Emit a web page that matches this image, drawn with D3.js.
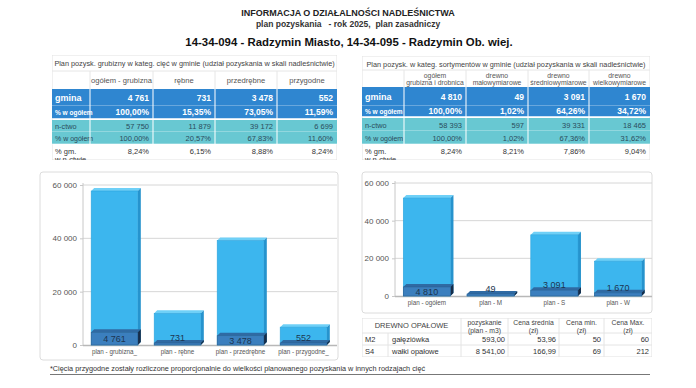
<!DOCTYPE html>
<html lang="pl">
<head>
<meta charset="UTF-8">
<title>Informacja o działalności nadleśnictwa</title>
<script src="https://d3js.org/d3.v7.min.js"></script>
<style>
  body { margin: 0; background: #fff; }
  svg { font-family: "Liberation Sans", Arial, sans-serif; }
</style>
</head>
<body>
<svg width="696" height="388"></svg>
<script>
const leftHeaders = [["ogółem - grubizna"], ["rębne"], ["przedrębne"], ["przygodne"]];
const leftGmina = [4761, 731, 3478, 552];
const leftGminaPct = ["100,00%", "15,35%", "73,05%", "11,59%"];
const leftNctwo = [57750, 11879, 39172, 6699];
const leftNctwoPct = ["100,00%", "20,57%", "67,83%", "11,60%"];
const leftShare = ["8,24%", "6,15%", "8,88%", "8,24%"];
const leftBarCats = ["plan - grubizna_", "plan - rębne", "plan - przedrębne", "plan - przygodne_"];
const leftBarPlan = [57750, 11879, 39172, 6699];

const rightHeaders = [["ogółem", "grubizna i drobnica"], ["drewno", "małowymiarowe"], ["drewno", "średniowymiarowe"], ["drewno", "wielkowymiarowe"]];
const rightGmina = [4810, 49, 3091, 1670];
const rightGminaPct = ["100,00%", "1,02%", "64,26%", "34,72%"];
const rightNctwo = [58393, 597, 39331, 18465];
const rightNctwoPct = ["100,00%", "1,02%", "67,36%", "31,62%"];
const rightShare = ["8,24%", "8,21%", "7,86%", "9,04%"];
const rightBarCats = ["plan - ogółem", "plan - M", "plan - S", "plan - W"];
const rightBarPlan = [52000, 600, 32500, 18500];

const yTicks = [0, 20000, 40000, 60000];

const fuelHeaders = [["DREWNO OPAŁOWE"], ["pozyskanie", "(plan - m3)"], ["Cena średnia", "(zł)"], ["Cena min.", "(zł)"], ["Cena Max.", "(zł)"]];
const fuelCodes = ["M2", "S4"];
const fuelNames = ["gałęziówka", "wałki opałowe"];
const fuelPlan = [593.00, 8541.00];
const fuelAvg = [53.96, 166.99];
const fuelMin = [50, 69];
const fuelMax = [60, 212];

const pl = d3.formatLocale({ decimal: ",", thousands: " ", grouping: [3], currency: ["", " zł"] });
const fmtInt = pl.format(",d");
const fmt2 = pl.format(",.2f");

const svg = d3.select("svg");
const defs = svg.append("defs");

// ---- titles ----
svg.append("text").attr("x", 348).attr("y", 16).attr("text-anchor", "middle")
  .attr("font-size", 9).attr("font-weight", "bold").attr("fill", "#222")
  .text("INFORMACJA O DZIAŁALNOŚCI NADLEŚNICTWA");
svg.append("text").attr("x", 348).attr("y", 27).attr("text-anchor", "middle")
  .attr("font-size", 8.5).attr("font-weight", "bold").attr("fill", "#333")
  .attr("xml:space", "preserve")
  .text("plan pozyskania   - rok 2025,  plan zasadniczy");
svg.append("text").attr("x", 349).attr("y", 46).attr("text-anchor", "middle")
  .attr("font-size", 11.4).attr("font-weight", "bold").attr("fill", "#111")
  .text("14-34-094 - Radzymin Miasto, 14-34-095 - Radzymin Ob. wiej.");

// ---- summary tables ----
function drawTable(o) {
  const g = svg.append("g");
  const e = o.cols, x0 = e[0], x1 = e[e.length - 1], r = o.rows;
  const clipId = "clip" + x0;
  defs.append("clipPath").attr("id", clipId).append("rect")
    .attr("x", x0).attr("y", r.title).attr("width", x1 - x0).attr("height", r.end - r.title);
  g.attr("clip-path", `url(#${clipId})`);

  g.append("rect").attr("x", x0).attr("y", r.title).attr("width", x1 - x0).attr("height", r.end - r.title)
    .attr("fill", "#fff").attr("stroke", "#e2e2e2");
  g.append("text").attr("x", (x0 + x1) / 2).attr("y", r.title + 10.5).attr("text-anchor", "middle")
    .attr("font-size", 7.3).attr("fill", "#444").text(o.title);

  // header
  e.slice(1, -1).forEach(x => g.append("line").attr("x1", x).attr("x2", x)
    .attr("y1", r.head).attr("y2", r.gmina).attr("stroke", "#e6e6e6"));
  g.append("line").attr("x1", x0).attr("x2", x1).attr("y1", r.head).attr("y2", r.head).attr("stroke", "#e6e6e6");
  o.headers.forEach((h, i) => {
    const cx = (e[i + 1] + e[i + 2]) / 2;
    const mid = (r.head + r.gmina) / 2;
    h.forEach((line, k) => g.append("text").attr("x", cx)
      .attr("y", mid + 3 + (k - (h.length - 1) / 2) * 7.5)
      .attr("text-anchor", "middle").attr("font-size", h.length > 1 ? 6.8 : 7.6).attr("fill", "#555").text(line));
  });

  const bands = [
    { y0: r.gmina, y1: r.pct, fill: "#2f86d0", label: "gmina", vals: o.gmina.map(fmtInt), color: "#fff", bold: true, lsize: 9, vsize: 8.5 },
    { y0: r.pct, y1: r.nct - 1.5, fill: "#2f86d0", label: "% w ogółem", vals: o.gminaPct, color: "#fff", bold: true, lsize: 6.5, vsize: 8.5 },
    { y0: r.nct, y1: r.pct2, fill: "#68c8d2", label: "n-ctwo", vals: o.nctwo.map(fmtInt), color: "#2b4c5c", bold: false, lsize: 7.3, vsize: 7.5 },
    { y0: r.pct2, y1: r.share, fill: "#68c8d2", label: "% w ogółem", vals: o.nctwoPct, color: "#2b4c5c", bold: false, lsize: 7, vsize: 7.5 }
  ];
  bands.forEach(b => {
    g.append("rect").attr("x", x0).attr("y", b.y0).attr("width", x1 - x0).attr("height", b.y1 - b.y0).attr("fill", b.fill);
    g.append("line").attr("x1", x0).attr("x2", x1).attr("y1", b.y1).attr("y2", b.y1).attr("stroke", "rgba(255,255,255,0.55)");
    const ty = (b.y0 + b.y1) / 2 + 3;
    g.append("text").attr("x", x0 + 3).attr("y", ty).attr("font-size", b.lsize)
      .attr("font-weight", b.bold ? "bold" : "normal").attr("fill", b.color).text(b.label);
    b.vals.forEach((v, i) => g.append("text").attr("x", e[i + 2] - 4).attr("y", ty).attr("text-anchor", "end")
      .attr("font-size", b.vsize).attr("font-weight", b.bold ? "bold" : "normal").attr("fill", b.color).text(v));
  });
  e.slice(1, -1).forEach(x => g.append("line").attr("x1", x).attr("x2", x)
    .attr("y1", r.gmina).attr("y2", r.share).attr("stroke", "rgba(255,255,255,0.85)").attr("stroke-width", 1.2));

  g.append("text").attr("x", x0 + 3).attr("y", r.share + 10).attr("font-size", 7.5).attr("fill", "#333").text("% gm.");
  g.append("text").attr("x", x0 + 3).attr("y", r.share + 18).attr("font-size", 7.5).attr("fill", "#333").text("w n-ctwie");
  o.share.forEach((v, i) => g.append("text").attr("x", e[i + 2] - 4).attr("y", r.share + 10)
    .attr("text-anchor", "end").attr("font-size", 7.5).attr("fill", "#333").text(v));
}

drawTable({
  cols: [52, 90, 153, 215, 277, 337],
  rows: { title: 55, head: 71, gmina: 89, pct: 106, nct: 120, pct2: 132, share: 144, end: 160 },
  title: "Plan pozysk. grubizny w kateg. cięć w gminie (udział pozyskania w skali nadleśnictwie)",
  headers: leftHeaders, gmina: leftGmina, gminaPct: leftGminaPct, nctwo: leftNctwo, nctwoPct: leftNctwoPct, share: leftShare
});
drawTable({
  cols: [362, 404, 466, 528, 589, 650],
  rows: { title: 56, head: 70, gmina: 87, pct: 106, nct: 118, pct2: 131, share: 144, end: 160 },
  title: "Plan pozysk. w kateg. sortymentów w gminie (udział pozyskania w skali nadleśnictwie)",
  headers: rightHeaders, gmina: rightGmina, gminaPct: rightGminaPct, nctwo: rightNctwo, nctwoPct: rightNctwoPct, share: rightShare
});

// ---- 3D bar charts ----
function drawChart(o) {
  const g = svg.append("g");
  g.append("rect").attr("x", o.box[0]).attr("y", o.box[1]).attr("width", o.box[2]).attr("height", o.box[3])
    .attr("rx", 3).attr("fill", "#fff").attr("stroke", "#dcdcdc");

  const x = d3.scaleBand().domain(o.cats).range([o.x0, o.x1]).paddingInner(0.26).paddingOuter(0.13);
  const y = d3.scaleLinear().domain([0, 60000]).range([o.y0, o.y1]);
  const dx = 3, dy = 3;

  g.append("g").selectAll("line").data(yTicks.slice(1)).join("line")
    .attr("x1", o.x0).attr("x2", o.x1 + 2).attr("y1", d => y(d)).attr("y2", d => y(d)).attr("stroke", "#d6d6d6");
  const yAxis = g.append("g").attr("transform", `translate(${o.x0},0)`)
    .call(d3.axisLeft(y).tickValues(yTicks).tickFormat(fmtInt).tickSize(3));
  yAxis.select(".domain").attr("stroke", "#c8c8c8");
  yAxis.selectAll(".tick line").attr("stroke", "#c8c8c8");
  yAxis.selectAll(".tick text").attr("font-size", 8).attr("fill", "#555").attr("font-family", "Liberation Sans, Arial, sans-serif");
  yAxis.select(".domain").attr("d", `M0,${o.y1 - 2}V${o.y0}`);

  g.append("line").attr("x1", o.x0).attr("x2", o.x1 + 2).attr("y1", o.y0 + 0.5).attr("y2", o.y0 + 0.5)
    .attr("stroke", "#b8b8b8").attr("stroke-width", 1.5);

  function bar3d(xl, w, yt, yb, c) {
    g.append("path").attr("d", `M${xl},${yt}L${xl + dx},${yt - dy}L${xl + w + dx},${yt - dy}L${xl + w},${yt}Z`).attr("fill", c.top);
    g.append("path").attr("d", `M${xl + w},${yt}L${xl + w + dx},${yt - dy}L${xl + w + dx},${yb - dy}L${xl + w},${yb}Z`).attr("fill", c.side);
    g.append("rect").attr("x", xl).attr("y", yt).attr("width", w).attr("height", Math.max(0, yb - yt))
      .attr("fill", c.front).attr("stroke", c.edge).attr("stroke-width", 0.6);
  }
  const light = { front: "#3cb6ee", top: "#6fd0f7", side: "#2693cd", edge: "#2ba3dd" };
  const dark = { front: "#3b7fbe", top: "#2f6aa3", side: "#162c48", edge: "#2c5f92" };

  o.cats.forEach((c, i) => {
    const xl = x(c), w = x.bandwidth();
    bar3d(xl, w, y(o.plan[i]), y(0), light);
    const it = Math.min(y(o.gmina[i]), y(0) - 2);
    bar3d(xl, w, it, y(0), dark);
    const h = y(0) - it;
    const ly = h > 9 ? (it + y(0)) / 2 + 3.5 : it - 2;
    g.append("text").attr("x", xl + w / 2).attr("y", ly).attr("text-anchor", "middle")
      .attr("font-size", 9).attr("fill", "#1d3550").text(fmtInt(o.gmina[i]));
    g.append("text").attr("x", xl + w / 2).attr("y", o.y0 + 9).attr("text-anchor", "middle")
      .attr("font-size", 6.3).attr("fill", "#555").text(c);
  });
}

drawChart({ box: [40, 172, 298, 188], cats: leftBarCats, plan: leftBarPlan, gmina: leftGmina,
  x0: 83, x1: 335, y0: 345, y1: 185 });
drawChart({ box: [362, 172, 290, 141], cats: rightBarCats, plan: rightBarPlan, gmina: rightGmina,
  x0: 395, x1: 650, y0: 296, y1: 183 });

// ---- fuel wood table ----
(function () {
  const e = [362, 388, 461, 508, 559, 604, 652];
  const rows = [318, 333, 345, 357];
  const g = svg.append("g");
  defs.append("clipPath").attr("id", "clipFuel").append("rect")
    .attr("x", e[0]).attr("y", rows[0]).attr("width", e[6] - e[0]).attr("height", rows[3] - rows[0]);
  g.attr("clip-path", "url(#clipFuel)");
  g.append("rect").attr("x", e[0]).attr("y", rows[0]).attr("width", e[6] - e[0]).attr("height", rows[3] - rows[0])
    .attr("fill", "#fff").attr("stroke", "#e0e0e0");
  rows.slice(1, -1).forEach(yy => g.append("line").attr("x1", e[0]).attr("x2", e[6]).attr("y1", yy).attr("y2", yy).attr("stroke", "#e4e4e4"));
  e.slice(1, -1).forEach((xx, i) => g.append("line").attr("x1", xx).attr("x2", xx)
    .attr("y1", i === 0 ? rows[1] : rows[0]).attr("y2", rows[3]).attr("stroke", "#e4e4e4"));

  const hx = [(e[0] + e[2]) / 2, (e[2] + e[3]) / 2, (e[3] + e[4]) / 2, (e[4] + e[5]) / 2, (e[5] + e[6]) / 2];
  fuelHeaders.forEach((h, i) => h.forEach((line, k) => g.append("text").attr("x", hx[i])
    .attr("y", h.length > 1 ? rows[0] + 7 + k * 7.5 : rows[0] + 10).attr("text-anchor", "middle")
    .attr("font-size", h.length > 1 ? 6.8 : 7.5).attr("fill", "#444").text(line)));

  fuelCodes.forEach((code, i) => {
    const ty = rows[i + 1] + 9;
    const cells = [fmt2(fuelPlan[i]), fmt2(fuelAvg[i]), fmtInt(fuelMin[i]), fmtInt(fuelMax[i])];
    g.append("text").attr("x", e[0] + 3).attr("y", ty).attr("font-size", 7.5).attr("fill", "#333").text(code);
    g.append("text").attr("x", e[1] + 4).attr("y", ty).attr("font-size", 7.5).attr("fill", "#333").text(fuelNames[i]);
    cells.forEach((v, k) => g.append("text").attr("x", e[k + 3] - 3).attr("y", ty).attr("text-anchor", "end")
      .attr("font-size", 7.5).attr("fill", "#333").text(v));
  });
})();

// ---- footnote ----
svg.append("text").attr("x", 50).attr("y", 371).attr("font-size", 7.3).attr("fill", "#333")
  .text("*Cięcia przygodne zostały rozliczone proporcjonalnie do wielkości planowanego pozyskania w innych rodzajach cięć");
svg.append("line").attr("x1", 50).attr("x2", 650).attr("y1", 374.5).attr("y2", 374.5).attr("stroke", "#777");
</script>
</body>
</html>
